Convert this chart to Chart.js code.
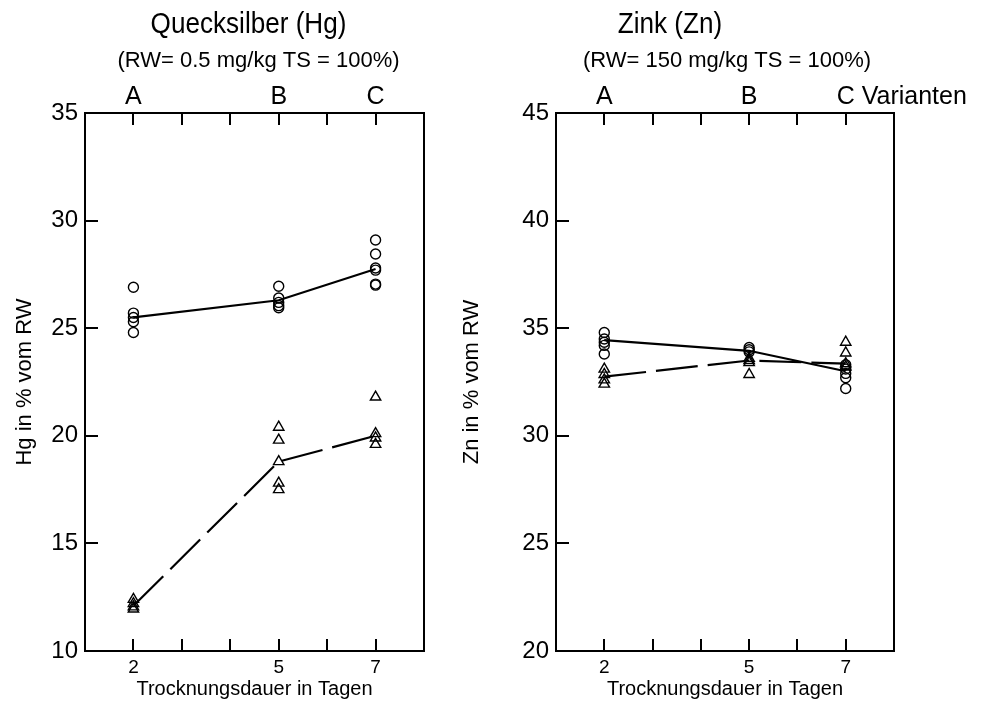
<!DOCTYPE html>
<html>
<head>
<meta charset="utf-8">
<script src="https://cdn.jsdelivr.net/npm/chart.js@4.4.1/dist/chart.umd.min.js"></script>
<style>
  body { margin: 0; background: #fff; }
  #wrap { position: relative; width: 992px; height: 706px; }
  #hgBox { position: absolute; left: 0; top: 0; width: 450px; height: 706px; }
  #znBox { position: absolute; left: 450px; top: 0; width: 542px; height: 706px; }
</style>
</head>
<body>
<div id="wrap">
  <div id="hgBox"><canvas id="hgChart"></canvas></div>
  <div id="znBox"><canvas id="znChart"></canvas></div>
</div>
<script>
// drying days and the variant letter shown on top
var days = [2, 5, 7];
var variants = ["A", "B", "C"];

// Quecksilber (Hg), % of RW
var hgCircles = [
  [26.9, 25.7, 25.5, 25.3, 24.8],
  [26.95, 26.4, 26.2, 26.05, 25.95],
  [29.1, 28.45, 27.8, 27.7, 27.05, 27.0]
];
var hgCircleMean = [25.5, 26.3, 27.75];
var hgTriangles = [
  [12.4, 12.2, 12.05, 11.95],
  [20.4, 19.8, 18.8, 17.8, 17.5],
  [21.8, 20.1, 19.9, 19.6]
];
var hgTriangleMean = [12.1, 18.8, 20.0];

// Zink (Zn), % of RW
var znCircles = [
  [34.8, 34.5, 34.35, 34.2, 33.8],
  [34.1, 34.0, 33.9],
  [33.3, 33.1, 32.9, 32.7, 32.2]
];
var znCircleMean = [34.45, 33.95, 33.0];
var znTriangles = [
  [33.1, 32.85, 32.6, 32.4],
  [33.6, 33.5, 33.4, 32.85],
  [34.35, 33.85, 33.35, 33.2]
];
var znTriangleMean = [32.75, 33.5, 33.35];

var FONT = '"Liberation Sans", Arial, sans-serif';

function points(groups) {
  var out = [];
  groups.forEach((vals, i) => {
    vals.forEach(v => out.push({ x: days[i], y: v }));
  });
  return out;
}

function meanLine(vals) {
  return vals.map((v, i) => ({ x: days[i], y: v }));
}

// box, inward ticks, variant letters and titles
var frame = {
  id: 'frame',
  afterDraw(chart, args, opts) {
    var ctx = chart.ctx;
    var a = chart.chartArea;
    var xs = chart.scales.x;
    var ys = chart.scales.y;
    ctx.save();
    ctx.strokeStyle = '#000';
    ctx.lineWidth = 2;
    ctx.strokeRect(a.left, a.top, a.right - a.left, a.bottom - a.top);
    ctx.beginPath();
    xs.ticks.forEach(t => {
      if (t.value <= xs.min || t.value >= xs.max) return;
      var px = Math.round(xs.getPixelForValue(t.value));
      ctx.moveTo(px, a.bottom);
      ctx.lineTo(px, a.bottom - 12);
      ctx.moveTo(px, a.top);
      ctx.lineTo(px, a.top + 12);
    });
    ys.ticks.forEach(t => {
      if (t.value <= ys.min || t.value >= ys.max) return;
      var py = Math.round(ys.getPixelForValue(t.value));
      ctx.moveTo(a.left, py);
      ctx.lineTo(a.left + 13, py);
    });
    ctx.stroke();

    ctx.fillStyle = '#000';
    ctx.textBaseline = 'alphabetic';
    ctx.textAlign = 'center';
    ctx.font = '25px ' + FONT;
    days.forEach((d, i) => {
      ctx.fillText(variants[i], xs.getPixelForValue(d), 104);
    });
    if (opts.extra) {
      ctx.textAlign = 'left';
      ctx.fillText(opts.extra, xs.getPixelForValue(days[2]) + 16, 104);
    }
    var cx = (a.left + a.right) / 2;
    ctx.textAlign = 'center';
    // the title face is a bit condensed in the original
    ctx.save();
    ctx.translate(cx + opts.titleShift, 33);
    ctx.scale(0.9, 1);
    ctx.font = '29px ' + FONT;
    ctx.fillText(opts.title, 0, 0);
    ctx.restore();
    ctx.font = '22px ' + FONT;
    ctx.fillText(opts.subtitle, cx + opts.subShift, 67);
    ctx.restore();
  }
};

function makeChart(id, cfg) {
  return new Chart(document.getElementById(id), {
    type: 'scatter',
    data: {
      datasets: [{
        data: points(cfg.circles),
        pointStyle: 'circle',
        pointRadius: 5,
        pointBorderWidth: 1.4,
        borderColor: '#000',
        backgroundColor: 'rgba(0,0,0,0)'
      }, {
        data: meanLine(cfg.circleMean),
        showLine: true,
        borderColor: '#000',
        borderWidth: 2.2,
        pointRadius: 0
      }, {
        data: points(cfg.triangles),
        pointStyle: 'triangle',
        pointRadius: 6,
        pointBorderWidth: 1.4,
        borderColor: '#000',
        backgroundColor: 'rgba(0,0,0,0)'
      }, {
        data: meanLine(cfg.triangleMean),
        showLine: true,
        borderColor: '#000',
        borderWidth: 2.2,
        borderDash: [42, 10],
        pointRadius: 0
      }]
    },
    options: {
      responsive: true,
      maintainAspectRatio: false,
      animation: false,
      layout: { padding: { top: 113, right: cfg.padRight, bottom: 0, left: 0 } },
      plugins: {
        legend: { display: false },
        tooltip: { enabled: false },
        frame: { title: cfg.title, subtitle: cfg.subtitle, extra: cfg.extra,
                 titleShift: cfg.titleShift, subShift: cfg.subShift }
      },
      scales: {
        x: {
          type: 'linear',
          min: 1,
          max: 8,
          grid: { display: false, drawTicks: false },
          border: { display: false },
          ticks: {
            stepSize: 1,
            autoSkip: false,
            maxRotation: 0,
            padding: 5,
            color: '#000',
            font: { size: 19, family: FONT },
            callback: v => days.includes(v) ? String(v) : ''
          },
          title: {
            display: true,
            text: 'Trocknungsdauer in Tagen',
            color: '#000',
            font: { size: 20, family: FONT },
            padding: { top: 0, bottom: 5 }
          },
          afterFit: s => { s.height = 55; }
        },
        y: {
          min: cfg.yMin,
          max: cfg.yMax,
          grid: { display: false, drawTicks: false },
          border: { display: false },
          ticks: {
            stepSize: 5,
            padding: 7,
            color: '#000',
            font: { size: 24, family: FONT }
          },
          title: {
            display: true,
            text: cfg.yTitle,
            color: '#000',
            font: { size: 22, family: FONT },
            padding: { top: cfg.yTitlePad, bottom: 0 }
          },
          afterFit: s => { s.width = cfg.yWidth; }
        }
      }
    },
    plugins: [frame]
  });
}

makeChart('hgChart', {
  circles: hgCircles,
  circleMean: hgCircleMean,
  triangles: hgTriangles,
  triangleMean: hgTriangleMean,
  yMin: 10, yMax: 35,
  yTitle: 'Hg in % vom RW',
  yTitlePad: 12,
  yWidth: 85,
  padRight: 26,
  title: 'Quecksilber (Hg)',
  titleShift: -6,
  subtitle: '(RW= 0.5 mg/kg TS = 100%)',
  subShift: 4,
  extra: ''
});

makeChart('znChart', {
  circles: znCircles,
  circleMean: znCircleMean,
  triangles: znTriangles,
  triangleMean: znTriangleMean,
  yMin: 20, yMax: 45,
  yTitle: 'Zn in % vom RW',
  yTitlePad: 9,
  yWidth: 106,
  padRight: 98,
  title: 'Zink (Zn)',
  titleShift: -55,
  subtitle: '(RW= 150 mg/kg TS = 100%)',
  subShift: 2,
  extra: 'Varianten'
});
</script>
</body>
</html>
